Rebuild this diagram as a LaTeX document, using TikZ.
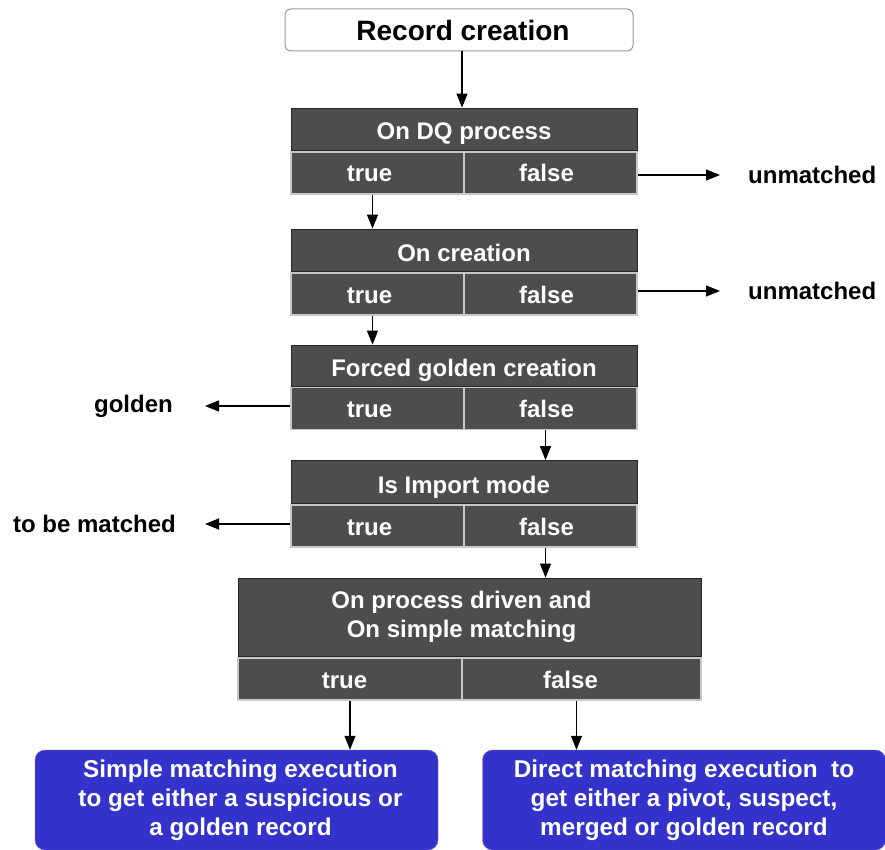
\documentclass[tikz,border=0pt]{standalone}
\usepackage{fontspec}
\setmainfont{Liberation Sans}
\usepackage{tikz}
\usetikzlibrary{positioning,arrows.meta}

\definecolor{boxgray}{HTML}{4D4D4D}
\definecolor{cellline}{HTML}{C8C8C8}
\definecolor{resblue}{HTML}{3333CC}

\tikzset{
  hdr/.style={fill=boxgray, draw=black!85, line width=0.8pt, text=white,
    font=\fontsize{24}{29}\selectfont\bfseries, align=center, inner sep=0pt},
  onehdr/.style={hdr, text height=22pt, text depth=0pt},
  cell/.style={fill=boxgray, draw=cellline, line width=1.2pt, text=white,
    font=\fontsize{24}{29}\selectfont\bfseries, inner sep=0pt,
    text height=18pt, text depth=0pt},
  lbl/.style={font=\fontsize{24}{29}\selectfont\bfseries, inner sep=0pt},
  result/.style={fill=resblue, draw=resblue!70!white, rounded corners=10pt, text=white,
    font=\fontsize{24.3}{29}\selectfont\bfseries, align=center, inner sep=0pt,
    minimum width=403pt, minimum height=100pt},
  arr/.style={-{Triangle[length=14pt,width=11pt]}, line width=1.1pt, black}
}

\begin{document}
\begin{tikzpicture}[x=1pt,y=-1pt]
\useasboundingbox (0,0) rectangle (885,850);

% start box
\node[draw=gray!80, rounded corners=6pt, fill=white, line width=1pt,
  minimum width=348pt, minimum height=42pt, inner sep=0pt,
  text height=22pt, text depth=0pt,
  font=\fontsize{28}{30}\selectfont\bfseries] (rec) at (459,30) {\hspace*{8pt}Record creation};

% decision blocks: header + true/false row
\node[onehdr, minimum width=346pt, minimum height=42pt] (dq) at (464,129) {On DQ process};
\node[cell, minimum width=173pt, minimum height=42pt] (dqT) at (377.5,173) {true\hspace*{16pt}};
\node[cell, minimum width=173pt, minimum height=42pt] (dqF) at (550.5,173) {false\hspace*{8pt}};

\node[onehdr, minimum width=346pt, minimum height=42pt] (cr) at (464,250) {On creation};
\node[cell, minimum width=173pt, minimum height=42pt] (crT) at (377.5,294) {true\hspace*{16pt}};
\node[cell, minimum width=173pt, minimum height=42pt] (crF) at (550.5,294) {false\hspace*{8pt}};

\node[onehdr, minimum width=346pt, minimum height=41pt] (fg) at (464,365.5) {Forced golden creation};
\node[cell, minimum width=173pt, minimum height=42pt] (fgT) at (377.5,408.5) {true\hspace*{16pt}};
\node[cell, minimum width=173pt, minimum height=42pt] (fgF) at (550.5,408.5) {false\hspace*{8pt}};

\node[onehdr, minimum width=346pt, minimum height=43pt] (im) at (464,482) {Is Import mode};
\node[cell, minimum width=173pt, minimum height=42pt] (imT) at (377.5,526) {true\hspace*{16pt}};
\node[cell, minimum width=173pt, minimum height=42pt] (imF) at (550.5,526) {false\hspace*{8pt}};

\node[hdr, minimum width=463pt, minimum height=78pt] (pd) at (469.5,617)
  {On process driven and\hspace*{16pt}\\On simple matching\hspace*{16pt}};
\node[cell, minimum width=224pt, minimum height=42pt] (pdT) at (350,679) {true\hspace*{11pt}};
\node[cell, minimum width=239pt, minimum height=42pt] (pdF) at (581.5,679) {false\hspace*{22pt}};

% side outcomes
\node[lbl, anchor=west] (um1) at (748,175) {unmatched};
\node[lbl, anchor=west] (um2) at (748,291) {unmatched};
\node[lbl, anchor=east] (gold) at (173,406) {golden};
\node[lbl, anchor=east] (tbm) at (176,524) {to be matched};

% results
\node[result] (simple) at (236.5,800)
  {\hspace*{8pt}Simple matching execution\\\hspace*{8pt}to get either a suspicious or\\\hspace*{8pt}a golden record};
\node[result] (direct) at (684,800)
  {Direct matching execution\ \ to\\get either a pivot, suspect,\\merged or golden record};

% flow
\draw[arr] ([xshift=3pt]rec.south) -- ([xshift=3pt]rec.south |- dq.north);
\draw[arr] ([xshift=-5pt]dqT.south) -- ([xshift=-5pt]dqT.south |- cr.north);
\draw[arr] ([xshift=-5pt]crT.south) -- ([xshift=-5pt]crT.south |- fg.north);
\draw[arr] ([xshift=-5pt]fgF.south) -- ([xshift=-5pt]fgF.south |- im.north);
\draw[arr] ([xshift=-5pt]imF.south) -- ([xshift=-5pt]imF.south |- pd.north);
\draw[arr] (pdT.south) -- (pdT.south |- simple.north);
\draw[arr] ([xshift=-5pt]pdF.south) -- ([xshift=-5pt]pdF.south |- direct.north);

\draw[arr, shorten >=28pt] ([yshift=-2pt]dqF.east) -- ([yshift=-2pt]dqF.east -| um1.west);
\draw[arr, shorten >=28pt] ([yshift=3pt]crF.east) -- ([yshift=3pt]crF.east -| um2.west);
\draw[arr, shorten >=32pt] ([yshift=2.5pt]fgT.west) -- ([yshift=2.5pt]fgT.west -| gold.east);
\draw[arr, shorten >=29pt] ([yshift=2pt]imT.west) -- ([yshift=2pt]imT.west -| tbm.east);

\end{tikzpicture}
\end{document}
